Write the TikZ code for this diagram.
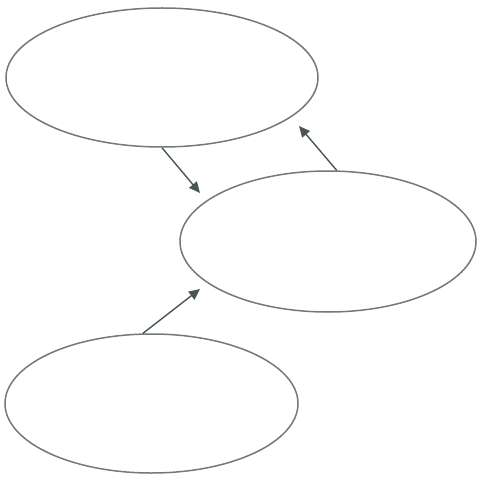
\documentclass[tikz,border=0pt]{standalone}
\usetikzlibrary{shapes.geometric,arrows.meta}
\definecolor{ringc}{RGB}{115,120,120}
\definecolor{arrc}{RGB}{75,85,85}
\begin{document}
\begin{tikzpicture}[x=1pt,y=-1pt,
  oval/.style={ellipse,draw=ringc,line width=1.5pt,inner sep=0pt},
  link/.style={draw=arrc,line width=1.4pt,-{Triangle[length=11pt,width=10pt]}}]
\useasboundingbox (0,0) rectangle (477,478);
\node[oval,minimum width=312pt,minimum height=139pt] (top) at (162,77.5) {};
\node[oval,minimum width=296pt,minimum height=141pt] (mid) at (328,241.5) {};
\node[oval,minimum width=293pt,minimum height=139pt] (bot) at (151.5,403.5) {};
\coordinate (e1) at (200,193);
\coordinate (e2) at (299,126);
\coordinate (e3) at (200,289);
\draw[link] (top.-90) -- (e1);
\draw[link] (mid.83.5) -- (e2);
\draw[link] (bot.97) -- (e3);
\end{tikzpicture}
\end{document}
